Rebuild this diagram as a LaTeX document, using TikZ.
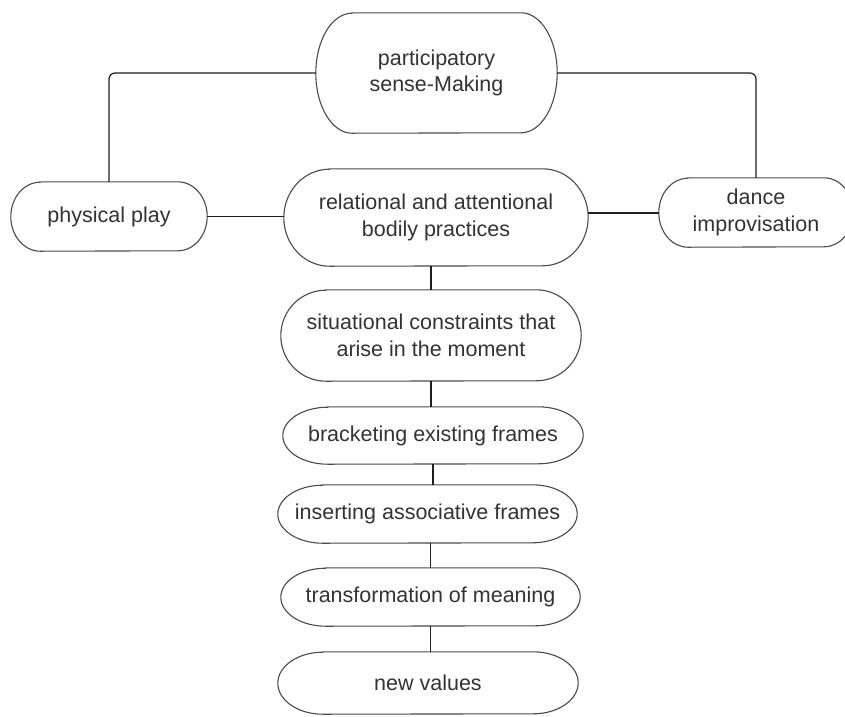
\documentclass[tikz,border=0pt]{standalone}
\usepackage{fontspec}
\setmainfont{Liberation Sans}
\definecolor{txtc}{HTML}{333333}
\definecolor{linec}{HTML}{1E1E1E}
\definecolor{bordc}{HTML}{4A4A4A}
\newcommand\termbox[6]{%
  \node[lbl, minimum width=#4pt, minimum height=#5pt] (#1) at (#2,#3) {#6};
  \draw[border] ([xshift=0.15*#4pt]#1.north west) -- ([xshift=-0.15*#4pt]#1.north east)
    arc[start angle=90, end angle=-90, x radius=0.15*#4pt, y radius=#5pt/2]
    -- ([xshift=0.15*#4pt]#1.south west)
    arc[start angle=270, end angle=90, x radius=0.15*#4pt, y radius=#5pt/2] -- cycle;
}
\begin{document}
\begin{tikzpicture}[x=1pt,y=1pt,
  conn/.style={draw=linec, line width=1.2pt},
  border/.style={draw=bordc, line width=1.1pt},
  lbl/.style={align=center, text=txtc, inner sep=0pt,
    font=\fontsize{21.5}{26.5}\selectfont}]
\fill[white] (0,0) rectangle (845,-716);
\clip (0,0) rectangle (845,-716);

\termbox{top}{436.5}{-73}{241}{120}{participatory\\sense-Making}
\termbox{phys}{109}{-216.5}{196}{69}{physical play}
\termbox{rel}{436}{-217.5}{304}{97}{relational and attentional\\bodily practices}
\termbox{dance}{756}{-212.5}{194}{69}{dance\\improvisation}
\termbox{sit}{431}{-335.5}{300}{91}{situational constraints that\\arise in the moment}
\termbox{brk}{433}{-435.5}{300}{57}{bracketing existing frames}
\termbox{ins}{427.5}{-514}{299}{58}{inserting associative frames}
\termbox{trf}{430.5}{-597}{299}{58}{transformation of meaning}
\termbox{nv}{428}{-683}{300}{62}{new values}

\draw[conn, rounded corners=6pt] (top.west) -| (phys.north);
\draw[conn, rounded corners=6pt] (top.east) -| (dance.north);
\draw[conn] (phys.east) -- (phys.east -| rel.west);
\draw[conn, line width=2pt] (dance.west -| rel.east) -- (dance.west);
\draw[conn] (sit.north |- rel.south) -- (sit.north);
\draw[conn] (sit.south) -- (sit.south |- brk.north);
\draw[conn] (brk.south) -- (brk.south |- ins.north);
\draw[conn, line width=1.8pt] (trf.north |- ins.south) -- (trf.north);
\draw[conn] (trf.south) -- (trf.south |- nv.north);
\end{tikzpicture}
\end{document}
